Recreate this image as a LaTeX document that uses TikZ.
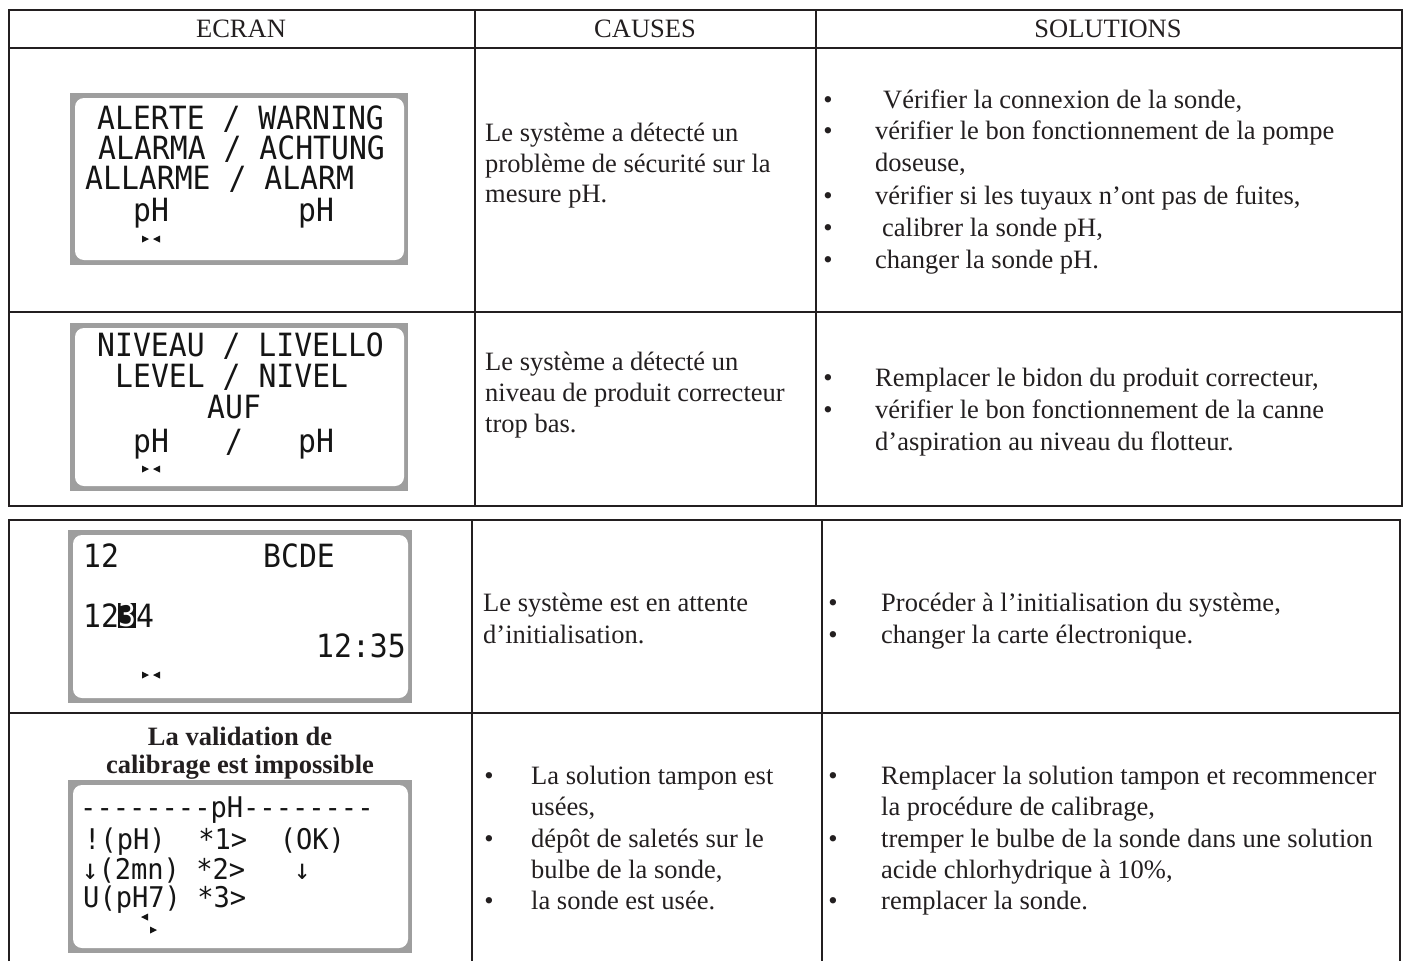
\documentclass[tikz,border=0pt]{standalone}
\usepackage{fontspec}
\setmainfont{Liberation Serif}
\newfontfamily\lcdA[FakeStretch=0.93]{DejaVu Sans Mono}
\newfontfamily\lcdB[FakeStretch=0.95]{DejaVu Sans Mono}
\definecolor{ink}{HTML}{231F20}
\definecolor{lcdframe}{HTML}{9E9E9E}
\definecolor{lcdink}{HTML}{151515}
\newcommand\mytx[4]{\node[txt] (#1) at (#2,#3) {#4};}
\newcommand\mybu[3]{\node[bul] (#1) at (#2,#3) {•};}
\newcommand\mylcd[4]{\node[lcd] (#1) at (#2,#3) {#4};}
\newcommand\mylcds[4]{\node[lcds] (#1) at (#2,#3) {#4};}
\newcommand\lcdscreen[4]{%
  \fill[lcdframe] (#1,#2) rectangle (#3,#4);
  \fill[white, rounded corners=9pt] (#1+5,#2+5) rectangle (#3-4,#4-5);}
\newcommand\lcdmark[2]{%
  \fill[lcdink] (#1-9,#2-3.5) -- (#1-2,#2) -- (#1-9,#2+3.5) -- cycle;
  \fill[lcdink] (#1+9,#2-3.5) -- (#1+2,#2) -- (#1+9,#2+3.5) -- cycle;}
\tikzset{
  rule/.style={draw=ink, line width=2.4pt},
  txt/.style={inner sep=0pt, anchor=base west, text=ink, font=\fontsize{26.5}{31}\selectfont},
  hd/.style={inner sep=0pt, anchor=base, text=ink, font=\fontsize{26.5}{31}\selectfont},
  ttl/.style={inner sep=0pt, anchor=base, text=ink, font=\bfseries\fontsize{26.5}{31}\selectfont},
  bul/.style={inner sep=0pt, anchor=base, text=ink, font=\fontsize{26.5}{31}\selectfont},
  lcd/.style={inner sep=0pt, anchor=base west, text=lcdink, font=\lcdA\fontsize{32}{32}\selectfont},
  lcds/.style={inner sep=0pt, anchor=base west, text=lcdink, font=\lcdB\fontsize{28.5}{29}\selectfont}
}
\begin{document}
\begin{tikzpicture}[x=1pt,y=-1pt]
\useasboundingbox (0,0) rectangle (1407,961);
\fill[white] (0,0) rectangle (1407,961);
% ---------- table 1 ----------
\draw[rule] (8.7,10) rectangle (1402,506);
\draw[rule] (8.7,48) -- (1402,48);
\draw[rule] (8.7,312) -- (1402,312);
\draw[rule] (475,10) -- (475,506);
\draw[rule] (816,10) -- (816,506);
% ---------- table 2 ----------
\draw[rule] (9,961) -- (9,520) -- (1400,520) -- (1400,961);
\draw[rule] (9,713) -- (1400,713);
\draw[rule] (472,520) -- (472,961);
\draw[rule] (822,520) -- (822,961);
% ---------- headers ----------
\node[hd] (hEcran) at (241,37) {ECRAN};
\node[hd] (hCauses) at (645,37) {CAUSES};
\node[hd] (hSol) at (1108,37) {SOLUTIONS};
% ---------- screen 1 ----------
\lcdscreen{70}{93}{408}{265}
\mylcd{s1a}{97}{129}{ALERTE / WARNING}
\mylcd{s1b}{98}{159}{ALARMA / ACHTUNG}
\mylcd{s1c}{85}{189}{ALLARME / ALARM}
\mylcd{s1d}{133}{221}{pH}
\mylcd{s1e}{298}{221}{pH}
\lcdmark{151}{239}
% ---------- screen 2 ----------
\lcdscreen{70}{323}{408}{491}
\mylcd{s2a}{97}{356}{NIVEAU / LIVELLO}
\mylcd{s2b}{115}{387}{LEVEL / NIVEL}
\mylcd{s2c}{207}{418}{AUF}
\mylcd{s2d}{133}{452}{pH}
\mylcd{s2e}{225}{452}{/}
\mylcd{s2f}{298}{452}{pH}
\lcdmark{151}{469}
% ---------- screen 3 ----------
\lcdscreen{68}{530}{412}{703}
\mylcd{s3a}{83}{567}{12}
\mylcd{s3b}{263}{567}{BCDE}
\mylcd{s3c}{83}{627}{12}
\node[fill=lcdink, text=white, inner sep=0pt, minimum width=15pt, minimum height=25pt, anchor=south west, font=\lcdA\fontsize{32}{32}\selectfont] (s3cur) at (118,628) {3};
\mylcd{s3d}{136}{627}{4}
\mylcd{s3e}{316}{657}{12:35}
\lcdmark{151}{675}
% ---------- screen 4 ----------
\node[ttl] (t1) at (240,745) {La validation de};
\node[ttl] (t2) at (240,773) {calibrage est impossible};
\lcdscreen{68}{780}{412}{953}
\mylcds{s4a}{80}{817}{-{}-{}-{}-{}-{}-{}-{}-pH-{}-{}-{}-{}-{}-{}-{}-}
\mylcds{s4b}{84}{849}{!(pH)~~*1>~~(OK)}
\mylcds{s4c}{82}{879}{↓(2mn)~*2>~~~↓}
\mylcds{s4d}{83}{907}{U(pH7)~*3>}
\fill[lcdink] (141,917) -- (148,913.5) -- (148,920.5) -- cycle;
\fill[lcdink] (157,930) -- (150,926.5) -- (150,933.5) -- cycle;
% ---------- causes ----------
\mytx{c1a}{485}{141}{Le système a détecté un}
\mytx{c1b}{485}{172}{problème de sécurité sur la}
\mytx{c1c}{485}{202}{mesure pH.}
\mytx{c2a}{485}{370}{Le système a détecté un}
\mytx{c2b}{485}{401}{niveau de produit correcteur}
\mytx{c2c}{485}{432}{trop bas.}
\mytx{c3a}{483}{611}{Le système est en attente}
\mytx{c3b}{483}{643}{d’initialisation.}
\mybu{cb1}{489}{784}
\mytx{c4a}{531}{784}{La solution tampon est}
\mytx{c4b}{531}{815}{usées,}
\mybu{cb2}{489}{847}
\mytx{c4c}{531}{847}{dépôt de saletés sur le}
\mytx{c4d}{531}{878}{bulbe de la sonde,}
\mybu{cb3}{489}{909}
\mytx{c4e}{531}{909}{la sonde est usée.}
% ---------- solutions ----------
\mybu{sb1}{828}{108}
\mytx{r1a}{883}{108}{Vérifier la connexion de la sonde,}
\mybu{sb2}{828}{139}
\mytx{r1b}{875}{139}{vérifier le bon fonctionnement de la pompe}
\mytx{r1c}{875}{171}{doseuse,}
\mybu{sb3}{828}{204}
\mytx{r1d}{875}{204}{vérifier si les tuyaux n’ont pas de fuites,}
\mybu{sb4}{828}{236}
\mytx{r1e}{882}{236}{calibrer la sonde pH,}
\mybu{sb5}{828}{268}
\mytx{r1f}{875}{268}{changer la sonde pH.}
\mybu{sb6}{828}{386}
\mytx{r2a}{875}{386}{Remplacer le bidon du produit correcteur,}
\mybu{sb7}{828}{418}
\mytx{r2b}{875}{418}{vérifier le bon fonctionnement de la canne}
\mytx{r2c}{875}{450}{d’aspiration au niveau du flotteur.}
\mybu{sb8}{833}{611}
\mytx{r3a}{881}{611}{Procéder à l’initialisation du système,}
\mybu{sb9}{833}{643}
\mytx{r3b}{881}{643}{changer la carte électronique.}
\mybu{sb10}{833}{784}
\mytx{r4a}{881}{784}{Remplacer la solution tampon et recommencer}
\mytx{r4b}{881}{815}{la procédure de calibrage,}
\mybu{sb11}{833}{847}
\mytx{r4c}{881}{847}{tremper le bulbe de la sonde dans une solution}
\mytx{r4d}{881}{878}{acide chlorhydrique à 10\%,}
\mybu{sb12}{833}{909}
\mytx{r4e}{881}{909}{remplacer la sonde.}
\end{tikzpicture}
\end{document}
